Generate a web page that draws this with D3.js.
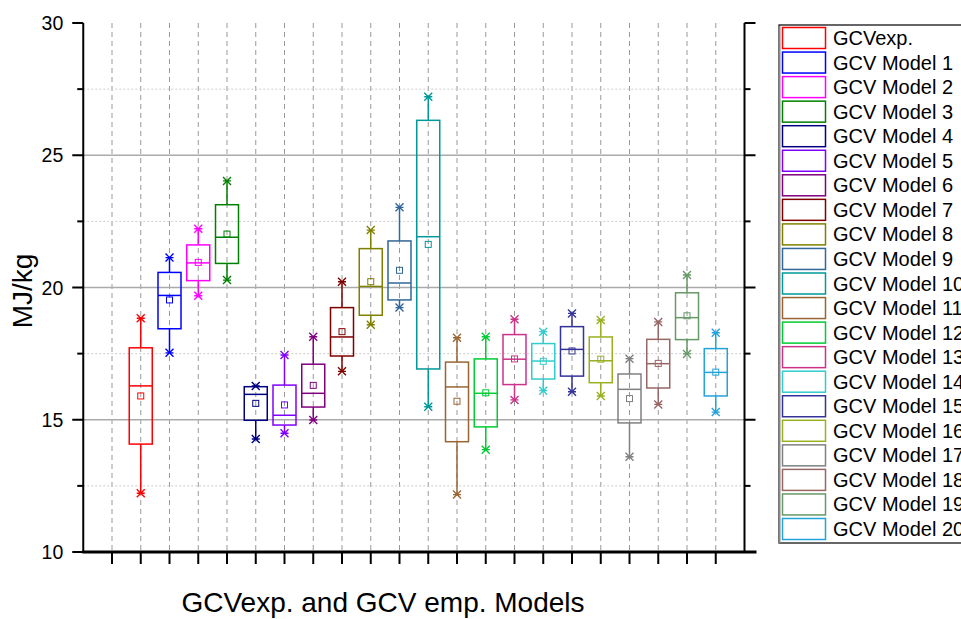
<!DOCTYPE html>
<html>
<head>
<meta charset="utf-8">
<script src="https://cdn.jsdelivr.net/npm/d3@7"></script>
<style>
  body { margin: 0; background: #fff; }
  text { font-family: Arial, "Liberation Sans", sans-serif; }
</style>
</head>
<body>
<script>
// series names and colours
var names = ["GCVexp.", "GCV Model 1", "GCV Model 2", "GCV Model 3", "GCV Model 4", "GCV Model 5",
  "GCV Model 6", "GCV Model 7", "GCV Model 8", "GCV Model 9", "GCV Model 10", "GCV Model 11",
  "GCV Model 12", "GCV Model 13", "GCV Model 14", "GCV Model 15", "GCV Model 16", "GCV Model 17",
  "GCV Model 18", "GCV Model 19", "GCV Model 20"];
var colors = ["#ff0000", "#0000ff", "#ff00ff", "#008000", "#000080", "#8000ff", "#800080", "#800000",
  "#808000", "#336699", "#009999", "#996633", "#00cc33", "#cc3388", "#33cccc", "#333399",
  "#99b020", "#808080", "#996666", "#669966", "#22a3d9"];

// box statistics (MJ/kg)
var maxs    = [18.84, 21.13, 22.22, 24.03, 16.28, 17.45, 18.14, 20.22, 22.17, 23.03, 27.21, 18.10, 18.14, 18.80, 18.33, 19.02, 18.77, 17.31, 18.70, 20.47, 18.29];
var q3s     = [17.72, 20.57, 21.61, 23.13, 16.25, 16.31, 17.10, 19.24, 21.47, 21.76, 26.32, 17.18, 17.30, 18.22, 17.88, 18.52, 18.13, 16.73, 18.04, 19.80, 17.69];
var medians = [16.28, 19.70, 20.93, 21.90, 15.96, 15.17, 16.00, 18.13, 20.04, 20.17, 21.92, 16.24, 16.00, 17.29, 17.22, 17.66, 17.23, 16.15, 17.12, 18.86, 16.79];
var means   = [15.90, 19.53, 20.95, 22.02, 15.62, 15.56, 16.30, 18.33, 20.22, 20.65, 21.63, 15.70, 16.02, 17.30, 17.21, 17.60, 17.29, 15.80, 17.13, 18.93, 16.80];
var q1s     = [14.08, 18.44, 20.26, 20.91, 14.98, 14.80, 15.48, 17.41, 18.95, 19.53, 16.92, 14.17, 14.73, 16.33, 16.54, 16.65, 16.40, 14.88, 16.20, 18.03, 15.90];
var mins    = [12.22, 17.53, 19.69, 20.28, 14.27, 14.49, 14.99, 16.83, 18.59, 19.24, 15.49, 12.17, 13.87, 15.75, 16.10, 16.06, 15.90, 13.60, 15.58, 17.49, 15.29];

var yMajor = [10, 15, 20, 25, 30];
var yMinor = [12.5, 17.5, 22.5, 27.5];
var xTicks = d3.range(1, 23);

var W = 961, H = 619;
var svg = d3.select("body").append("svg").attr("width", W).attr("height", H);

var x = d3.scaleLinear().domain([0, 23]).range([83.25, 744.5]);
var y = d3.scaleLinear().domain([10, 30]).range([552, 23]);
var boxW = 23;

var data = names.map(function(n, i) {
  return {name: n, color: colors[i], pos: i + 2, max: maxs[i], q3: q3s[i], med: medians[i],
    mean: means[i], q1: q1s[i], min: mins[i]};
});

// grid
var grid = svg.append("g");
grid.selectAll(".vg").data(xTicks).enter().append("line")
  .attr("x1", function(d) { return x(d); }).attr("x2", function(d) { return x(d); })
  .attr("y1", y(30)).attr("y2", y(10))
  .attr("stroke", "#999").attr("stroke-width", 1).attr("stroke-dasharray", "5,4");
grid.selectAll(".hg").data([15, 20, 25]).enter().append("line")
  .attr("x1", x(0)).attr("x2", x(23))
  .attr("y1", function(d) { return y(d); }).attr("y2", function(d) { return y(d); })
  .attr("stroke", "#aaa").attr("stroke-width", 1.5);
grid.selectAll(".hm").data(yMinor).enter().append("line")
  .attr("x1", x(0)).attr("x2", x(23))
  .attr("y1", function(d) { return y(d); }).attr("y2", function(d) { return y(d); })
  .attr("stroke", "#ccc").attr("stroke-width", 1).attr("stroke-dasharray", "2,2");

// boxes
var boxes = svg.append("g").selectAll("g").data(data).enter().append("g")
  .attr("stroke", function(d) { return d.color; })
  .attr("stroke-width", 1.5).attr("fill", "none");

boxes.append("line")
  .attr("x1", function(d) { return x(d.pos); }).attr("x2", function(d) { return x(d.pos); })
  .attr("y1", function(d) { return y(d.q3); }).attr("y2", function(d) { return y(d.max); });
boxes.append("line")
  .attr("x1", function(d) { return x(d.pos); }).attr("x2", function(d) { return x(d.pos); })
  .attr("y1", function(d) { return y(d.q1); }).attr("y2", function(d) { return y(d.min); });
boxes.append("rect")
  .attr("x", function(d) { return x(d.pos) - boxW / 2; })
  .attr("y", function(d) { return y(d.q3); })
  .attr("width", boxW)
  .attr("height", function(d) { return y(d.q1) - y(d.q3); });
boxes.append("line")
  .attr("x1", function(d) { return x(d.pos) - boxW / 2; }).attr("x2", function(d) { return x(d.pos) + boxW / 2; })
  .attr("y1", function(d) { return y(d.med); }).attr("y2", function(d) { return y(d.med); });
boxes.append("rect")
  .attr("stroke-width", 1)
  .attr("x", function(d) { return x(d.pos) - 3; })
  .attr("y", function(d) { return y(d.mean) - 3; })
  .attr("width", 6).attr("height", 6);

// min / max markers (cross plus dash)
function star(g, key) {
  var s = 4;
  g.append("path").attr("stroke-width", 1.4)
    .attr("d", function(d) {
      var cx = x(d.pos), cy = y(d[key]);
      return "M" + (cx - s) + "," + (cy - s) + "L" + (cx + s) + "," + (cy + s) +
        "M" + (cx - s) + "," + (cy + s) + "L" + (cx + s) + "," + (cy - s) +
        "M" + (cx - s) + "," + cy + "L" + (cx + s) + "," + cy;
    });
}
star(boxes, "max");
star(boxes, "min");

// axes
var axes = svg.append("g").attr("stroke", "#000");
axes.append("line").attr("x1", x(0)).attr("x2", x(0)).attr("y1", y(30)).attr("y2", y(10)).attr("stroke-width", 2);
axes.append("line").attr("x1", x(23)).attr("x2", x(23)).attr("y1", y(30)).attr("y2", y(10)).attr("stroke-width", 2);
axes.append("line").attr("x1", x(0) - 1).attr("x2", x(23) + 12).attr("y1", y(10)).attr("y2", y(10)).attr("stroke-width", 3);

axes.selectAll(".lt").data(yMajor).enter().append("line")
  .attr("x1", x(0) - 11).attr("x2", x(0))
  .attr("y1", function(d) { return y(d); }).attr("y2", function(d) { return y(d); }).attr("stroke-width", 2);
axes.selectAll(".lm").data(yMinor).enter().append("line")
  .attr("x1", x(0) - 6).attr("x2", x(0))
  .attr("y1", function(d) { return y(d); }).attr("y2", function(d) { return y(d); }).attr("stroke-width", 2);
axes.selectAll(".rt").data(yMajor.slice(1)).enter().append("line")
  .attr("x1", x(23)).attr("x2", x(23) + 11)
  .attr("y1", function(d) { return y(d); }).attr("y2", function(d) { return y(d); }).attr("stroke-width", 2);
axes.selectAll(".rm").data(yMinor).enter().append("line")
  .attr("x1", x(23)).attr("x2", x(23) + 6)
  .attr("y1", function(d) { return y(d); }).attr("y2", function(d) { return y(d); }).attr("stroke-width", 2);
axes.selectAll(".bt").data(xTicks).enter().append("line")
  .attr("x1", function(d) { return x(d); }).attr("x2", function(d) { return x(d); })
  .attr("y1", y(10)).attr("y2", y(10) + 12).attr("stroke-width", 2);

svg.append("g").selectAll("text").data(yMajor).enter().append("text")
  .attr("x", x(0) - 20).attr("y", function(d) { return y(d) + 7; })
  .attr("text-anchor", "end").attr("font-size", 19.5)
  .text(function(d) { return d; });

svg.append("text")
  .attr("transform", "translate(32," + 291 + ") rotate(-90)")
  .attr("text-anchor", "middle").attr("font-size", 28)
  .text("MJ/kg");
svg.append("text")
  .attr("x", 383).attr("y", 612)
  .attr("text-anchor", "middle").attr("font-size", 28)
  .text("GCVexp. and GCV emp. Models");

// legend
var legend = svg.append("g");
legend.append("rect").attr("x", 779).attr("y", 25).attr("width", 200).attr("height", 518)
  .attr("fill", "#fff").attr("stroke", "#000").attr("stroke-width", 1.2);
legend.append("line").attr("x1", 779.5).attr("x2", 779.5).attr("y1", 26).attr("y2", 543)
  .attr("stroke", "#888").attr("stroke-width", 2);
var li = legend.selectAll(".li").data(data).enter().append("g")
  .attr("transform", function(d, i) { return "translate(0," + (38 + i * 24.55) + ")"; });
li.append("rect").attr("x", 782.5).attr("y", -10.5).attr("width", 43).attr("height", 21)
  .attr("fill", "#fff").attr("stroke", function(d) { return d.color; }).attr("stroke-width", 1.5);
li.append("text").attr("x", 833).attr("y", 7).attr("font-size", 20)
  .text(function(d) { return d.name; });
</script>
</body>
</html>
